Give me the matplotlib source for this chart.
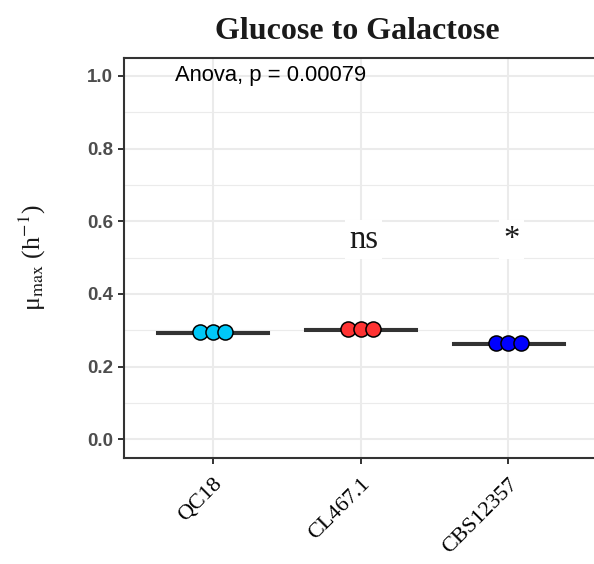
import numpy as np
import matplotlib
matplotlib.use("Agg")
import matplotlib.pyplot as plt

plt.rcParams["mathtext.fontset"] = "stix"

# ---- data ----
categories = ["QC18", "CL467.1", "CBS12357"]
qc18_values = [0.2915, 0.2930, 0.2975]
cl467_values = [0.3015, 0.3028, 0.3040]
cbs_values = [0.2625, 0.2640, 0.2665]
group_values = [qc18_values, cl467_values, cbs_values]
dot_colors = ["#00C8F8", "#FF3333", "#0000FF"]
signif_labels = ["", "ns", "*"]
signif_y = 0.55
anova_label = "Anova, p = 0.00079"
yticks = [0.0, 0.2, 0.4, 0.6, 0.8, 1.0]
yminor = [0.1, 0.3, 0.5, 0.7, 0.9]

W, H = 594, 564
fig = plt.figure(figsize=(W / 100, H / 100), dpi=100)
ax = fig.add_axes([124 / W, 1 - 457.5 / H, (597 - 124) / W, (457.5 - 57.7) / H])

xpos = np.arange(1, len(categories) + 1)

# boxplots
bp = ax.boxplot(group_values, positions=xpos, widths=0.75, whis=1.5,
                patch_artist=True, showfliers=False, showcaps=False,
                manage_ticks=False,
                medianprops=dict(color="#333333", linewidth=2.2, solid_capstyle="butt"),
                boxprops=dict(facecolor="white", edgecolor="#333333", linewidth=2.2),
                whiskerprops=dict(color="#333333", linewidth=2.2),
                zorder=3)

# dot plots (centered stacks)
dot_step = 0.0845
for i, (vals, col) in enumerate(zip(group_values, dot_colors)):
    n = len(vals)
    offs = (np.arange(n) - (n - 1) / 2) * dot_step
    yc = np.full(n, np.mean(vals))
    ax.scatter(xpos[i] + offs, yc, s=118, facecolor=col, edgecolor="black",
               linewidth=1.1, zorder=4)

ax.set_xlim(0.4, 3.6)
ax.set_ylim(-0.05, 1.05)

# grid
ax.set_yticks(yticks)
ax.set_yticks(yminor, minor=True)
ax.set_xticks(xpos)
ax.grid(True, which="major", color="#EBEBEB", linewidth=1.5, zorder=0)
ax.grid(True, which="minor", axis="y", color="#EBEBEB", linewidth=0.8, zorder=0)
ax.set_axisbelow(True)

# significance labels
for i, lab in enumerate(signif_labels):
    if lab:
        ax.text(xpos[i] + 0.02, signif_y, lab, ha="center", va="center",
                family="Liberation Serif", fontsize=23.5, color="#1a1a1a",
                bbox=dict(facecolor="white", edgecolor="none", pad=3), zorder=2.5)

ax.text(0.745, 1.0, anova_label, ha="left", va="center",
        family="Liberation Sans", fontsize=15.8, color="black", zorder=5)

# spines / ticks
for s in ax.spines.values():
    s.set_color("#333333")
    s.set_linewidth(1.5)
ax.tick_params(axis="both", which="major", color="#333333", width=1.4, length=4.5)
ax.tick_params(axis="y", which="minor", length=0)
ax.set_yticklabels([f"{v:.1f}" for v in yticks], family="Liberation Sans",
                   fontweight="bold", fontsize=13.5, color="#4D4D4D")
ax.set_xticklabels(categories, rotation=45, ha="right", va="top",
                   rotation_mode="anchor", family="Liberation Serif",
                   fontsize=16, color="black")
ax.tick_params(axis="x", pad=8)

fig.text(357 / W, 1 - 31.7 / H, "Glucose to Galactose", ha="center", va="center",
         family="Liberation Serif", fontweight="bold", fontsize=23, color="#1a1a1a")

fig.text(32 / W, 1 - 258 / H, r"μ$_{\mathrm{max}}$ (h$^{\mathrm{-1}}$)",
         rotation=90, ha="center", va="center", family="Liberation Serif",
         fontsize=18.5, color="#1a1a1a")

fig.savefig("out.png", dpi=100)
